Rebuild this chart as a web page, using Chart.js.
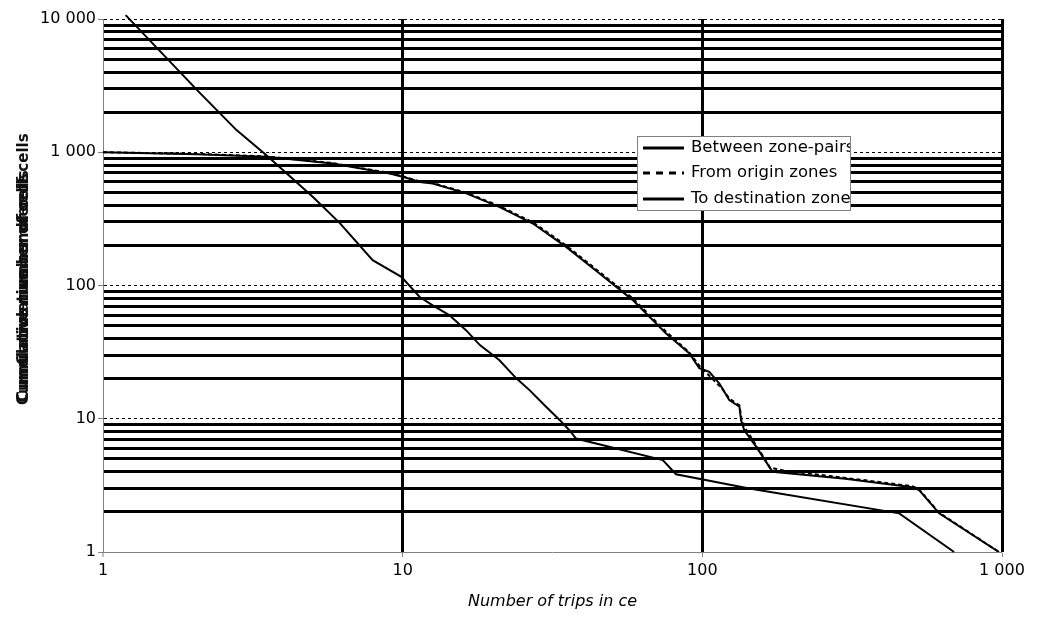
<!DOCTYPE html>
<html lang="en">
<head>
  <meta charset="UTF-8" />
  <title>Cumulative number of cells</title>
  <script src="https://cdn.jsdelivr.net/npm/chart.js"></script>
  <style>
    html, body { margin: 0; padding: 0; background: #fff; }
  </style>
</head>
<body>
  <canvas id="tripChart" width="1038" height="628"></canvas>

  <script>
    const seriesNames = ['Between zone-pairs', 'From origin zones', 'To destination zones'];

    // between zone-pairs (10 000 cells)
    const pairTrips = [1.19, 2.1, 2.79, 3.51, 5.01, 6.17, 7.94, 9.9, 11.4, 12.6, 14.3, 16.3, 18.1, 21, 23.9, 26.5, 30.1, 33.4, 36, 37.9, 73.8, 81.7, 143.5, 454, 692];
    const pairCells = [10700, 2800, 1466, 951, 463, 294, 155, 116, 82, 71, 60, 46, 35.7, 27.6, 20.2, 16.4, 12.3, 9.8, 8.2, 7.1, 4.9, 3.83, 3.0, 1.95, 1];

    // from origin zones (dashed)
    const originTrips = [1, 2.05, 3.51, 5.84, 7.57, 9.05, 10, 11.4, 12.6, 16.3, 21, 27.2, 35.1, 45.4, 58.6, 75.7, 90.4, 97.7, 105.5, 116, 123, 133, 135, 139, 158, 168, 185, 300, 502, 529, 617, 977];
    const originCells = [1000, 972, 930, 830, 748, 700, 660, 604, 588, 497, 395, 298, 200, 126, 80, 45, 31.5, 25, 21, 17, 14.2, 12.6, 10.1, 8.5, 5.4, 4.3, 4.1, 3.6, 3.12, 2.95, 1.97, 1];

    // to destination zones (solid)
    const destTrips = [1, 2.05, 3.51, 5.84, 7.57, 9.05, 10, 11.4, 12.6, 16.3, 21, 27.2, 35.1, 45.4, 58.6, 75.7, 90.4, 97.7, 105.5, 114, 123, 133, 134.6, 138, 151, 171.5, 300, 502, 529, 617, 977];
    const destCells = [1000, 968, 925, 824, 743, 693, 654, 599, 583, 491, 389, 292, 195, 123, 77.7, 43.7, 31, 24, 22.5, 18.4, 13.8, 12.3, 9.8, 8.2, 6.2, 4.0, 3.55, 3.06, 2.92, 1.95, 1];

    const xTickValues = [1, 10, 100, 1000];
    const yTickValues = [1, 10, 100, 1000, 10000];

    const toPoints = (xs, ys) => xs.map((x, i) => ({ x: x, y: ys[i] }));
    const isDecade = v => Math.abs(Math.log10(v) - Math.round(Math.log10(v))) < 1e-9;
    const fmt = v => String(v).replace(/\B(?=(\d{3})+(?!\d))/g, ' ');
    // keep only 1..9 x 10^n
    const wholeMantissa = v => {
      const m = v / Math.pow(10, Math.floor(Math.log10(v) + 1e-9));
      return Math.abs(m - Math.round(m)) < 1e-6;
    };

    // overlapping y title, as in the original
    const yTitlePlugin = {
      id: 'yTitle',
      afterDraw(chart) {
        const ctx = chart.ctx;
        ctx.save();
        ctx.translate(24, 405);
        ctx.rotate(-Math.PI / 2);
        ctx.fillStyle = '#111';
        ctx.font = 'bold 15px "DejaVu Sans"';
        ctx.textBaseline = 'middle';
        ctx.textAlign = 'left';
        ctx.fillText('Cumulative number of cells', 0, 0);
        ctx.fillText('Cumulative number of cells', 3, 0);
        ctx.fillText('Cumulative number of cells', 40, 0);
        ctx.restore();
      }
    };

    // legend box with clipped text
    const legendPlugin = {
      id: 'boxLegend',
      afterDatasetsDraw(chart) {
        const ctx = chart.ctx;
        const bx = 637, by = 136, bw = 213, bh = 74;
        ctx.save();
        ctx.fillStyle = '#fff';
        ctx.fillRect(bx, by, bw, bh);
        ctx.strokeStyle = '#808080';
        ctx.lineWidth = 1;
        ctx.strokeRect(bx + 0.5, by + 0.5, bw, bh);
        ctx.beginPath();
        ctx.rect(bx + 1, by + 1, bw - 1, bh - 1);
        ctx.clip();
        const rows = [148, 173, 199];
        const dashes = [[], [7, 6], []];
        seriesNames.forEach((name, i) => {
          ctx.strokeStyle = '#000';
          ctx.lineWidth = 3;
          ctx.setLineDash(dashes[i]);
          ctx.beginPath();
          ctx.moveTo(643, rows[i]);
          ctx.lineTo(684, rows[i]);
          ctx.stroke();
          ctx.setLineDash([]);
          ctx.fillStyle = '#000';
          ctx.font = '16.5px "DejaVu Sans"';
          ctx.textBaseline = 'middle';
          ctx.fillText(name, 691, rows[i]);
        });
        ctx.restore();
      }
    };

    const ctx = document.getElementById('tripChart').getContext('2d');
    new Chart(ctx, {
      type: 'line',
      data: {
        datasets: [
          {
            label: seriesNames[0],
            data: toPoints(pairTrips, pairCells),
            borderColor: '#000',
            borderWidth: 2,
            pointRadius: 0,
            clip: false
          },
          {
            label: seriesNames[2],
            data: toPoints(destTrips, destCells),
            borderColor: '#000',
            borderWidth: 2,
            pointRadius: 0
          },
          {
            label: seriesNames[1],
            data: toPoints(originTrips, originCells),
            borderColor: '#000',
            borderWidth: 2,
            borderDash: [4, 3],
            pointRadius: 0
          }
        ]
      },
      options: {
        responsive: false,
        animation: false,
        devicePixelRatio: 1,
        layout: { padding: { top: 19, right: 36, left: 0, bottom: 0 } },
        plugins: {
          legend: { display: false },
          tooltip: { enabled: false }
        },
        scales: {
          x: {
            type: 'logarithmic',
            min: 1,
            max: 1000,
            afterFit(s) { s.height = 76; },
            afterBuildTicks(s) {
              s.ticks = s.ticks.filter(t => t.value >= 1 && t.value <= 1000 && wholeMantissa(t.value));
            },
            ticks: {
              autoSkip: false,
              maxRotation: 0,
              padding: 4,
              color: '#000',
              font: { family: 'DejaVu Sans', size: 16 },
              callback: v => xTickValues.includes(v) ? fmt(v) : ''
            },
            grid: {
              color: c => (c.tick && isDecade(c.tick.value) && c.tick.value > 1) ? '#000' : 'rgba(0,0,0,0)',
              lineWidth: c => (c.tick && isDecade(c.tick.value) && c.tick.value > 1) ? 3 : 0,
              tickColor: c => (c.tick && isDecade(c.tick.value)) ? '#808080' : 'rgba(0,0,0,0)',
              tickLength: 5,
              tickWidth: 1
            },
            border: { color: '#808080', width: 1 },
            title: {
              display: true,
              text: 'Number of trips in ce',
              color: '#000',
              font: { family: 'DejaVu Sans', size: 16, style: 'italic' },
              padding: { top: 4, bottom: 17 }
            }
          },
          y: {
            type: 'logarithmic',
            min: 1,
            max: 10000,
            afterFit(s) { s.width = 103; },
            afterBuildTicks(s) {
              s.ticks = s.ticks.filter(t => t.value >= 1 && t.value <= 10000 && wholeMantissa(t.value));
            },
            ticks: {
              autoSkip: false,
              padding: 2,
              color: '#000',
              font: { family: 'DejaVu Sans', size: 16 },
              callback: v => yTickValues.includes(v) ? fmt(v) : ''
            },
            grid: {
              color: c => (c.tick && c.tick.value === 1) ? 'rgba(0,0,0,0)' : '#000',
              lineWidth: c => (c.tick && isDecade(c.tick.value)) ? 1 : 3,
              tickColor: c => (c.tick && isDecade(c.tick.value)) ? '#808080' : 'rgba(0,0,0,0)',
              tickLength: 5,
              tickWidth: 1
            },
            border: {
              color: '#808080',
              width: 1,
              dash: c => (c.tick && isDecade(c.tick.value)) ? [3, 3] : []
            }
          }
        }
      },
      plugins: [yTitlePlugin, legendPlugin]
    });
  </script>
</body>
</html>
